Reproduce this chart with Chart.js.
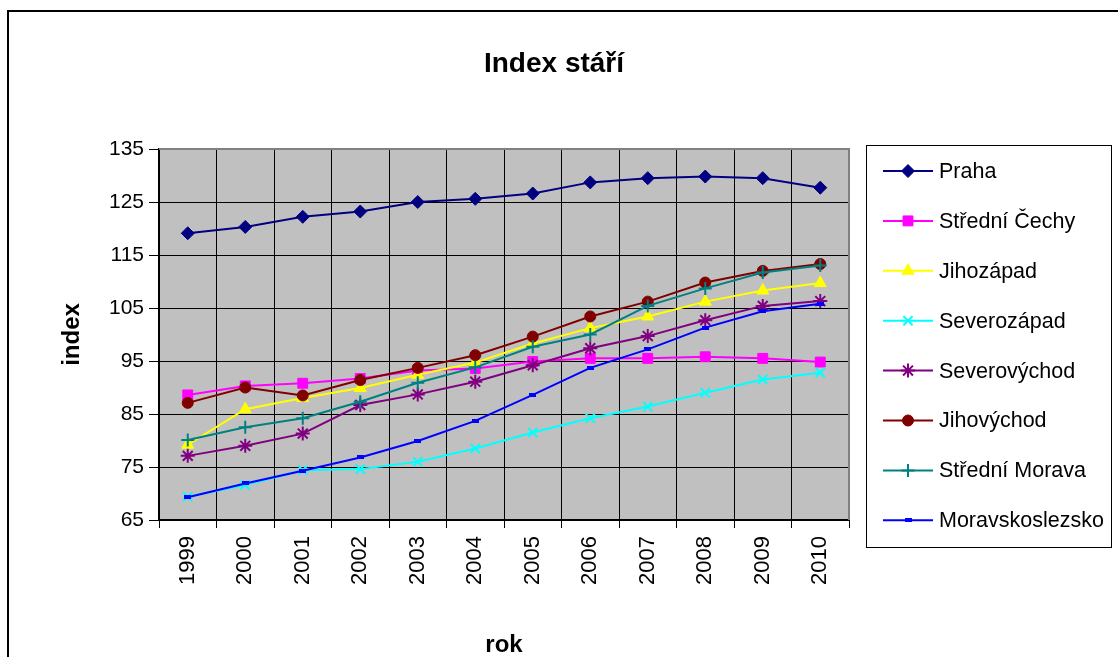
<!DOCTYPE html>
<html>
<head>
<meta charset="utf-8">
<script src="https://cdn.jsdelivr.net/npm/chart.js@4/dist/chart.umd.min.js"></script>
<style>
  html, body { margin: 0; padding: 0; background: #fff; }
  #wrap { position: relative; width: 1118px; height: 657px; }
</style>
</head>
<body>
<div id="wrap"><canvas id="c" width="1118" height="657"></canvas></div>
<script>
const years = ['1999','2000','2001','2002','2003','2004','2005','2006','2007','2008','2009','2010'];
const seriesNames = ['Praha','Střední Čechy','Jihozápad','Severozápad','Severovýchod','Jihovýchod','Střední Morava','Moravskoslezsko'];
const praha          = [119.1,120.3,122.2,123.2,125.0,125.6,126.6,128.7,129.5,129.8,129.5,127.7];
const stredniCechy   = [88.6,90.3,90.8,91.7,93.2,93.6,94.9,95.5,95.5,95.8,95.5,94.8];
const jihozapad      = [79.2,85.9,88.0,89.9,92.4,94.7,98.3,101.2,103.4,106.2,108.3,109.7];
const severozapad    = [69.4,71.6,74.4,74.6,76.0,78.5,81.5,84.2,86.4,89.0,91.5,92.8];
const severovychod   = [77.1,79.0,81.3,86.7,88.7,91.1,94.2,97.4,99.7,102.7,105.4,106.3];
const jihovychod     = [87.1,90.0,88.5,91.4,93.7,96.1,99.6,103.4,106.2,109.8,112.0,113.3];
const stredniMorava  = [80.1,82.5,84.2,87.3,90.9,93.8,97.7,100.0,105.4,108.7,111.7,113.0];
const moravskoslezsko= [69.3,71.9,74.3,76.8,79.9,83.7,88.6,93.7,97.2,101.3,104.4,105.8];
const yTicks = [65,75,85,95,105,115,125,135];
const titleText = 'Index stáří';
const xTitle = 'rok';
const yTitle = 'index';

const FONT = 'Arial, "Liberation Sans", sans-serif';

// small dash marker for Moravskoslezsko
const dash = document.createElement('canvas');
dash.width = 7; dash.height = 4;
(function(){ const g = dash.getContext('2d'); g.fillStyle = '#0000FF'; g.fillRect(0,0,7,4); })();

const styles = [
  {color:'#000080', pointStyle:'rectRot', radius:6.5, bw:1},
  {color:'#FF00FF', pointStyle:'rect', radius:7, bw:1},
  {color:'#FFFF00', pointStyle:'triangle', radius:7, bw:1},
  {color:'#00FFFF', pointStyle:'crossRot', radius:6.5, bw:2},
  {color:'#800080', pointStyle:'star', radius:7, bw:2},
  {color:'#800000', pointStyle:'circle', radius:5.5, bw:1},
  {color:'#008080', pointStyle:'cross', radius:6.5, bw:2},
  {color:'#0000FF', pointStyle:dash, radius:4, bw:1}
];
const values = [praha, stredniCechy, jihozapad, severozapad, severovychod, jihovychod, stredniMorava, moravskoslezsko];

const datasets = values.map((v, i) => ({
  label: seriesNames[i],
  data: v,
  borderColor: styles[i].color,
  backgroundColor: styles[i].color,
  pointBackgroundColor: styles[i].color,
  pointBorderColor: styles[i].color,
  pointStyle: styles[i].pointStyle,
  pointRadius: styles[i].radius,
  pointBorderWidth: styles[i].bw,
  borderWidth: 2,
  tension: 0,
  fill: false,
  order: -i
}));

const decor = {
  id: 'decor',
  beforeDraw(chart) {
    const ctx = chart.ctx, a = chart.chartArea;
    ctx.save();
    ctx.fillStyle = '#fff';
    ctx.fillRect(0, 0, chart.width, chart.height);
    ctx.strokeStyle = '#000';
    ctx.lineWidth = 2;
    ctx.strokeRect(8, 11, 1200, 800);
    ctx.fillStyle = '#C0C0C0';
    ctx.fillRect(a.left, a.top, a.right - a.left, a.bottom - a.top);
    ctx.restore();
  },
  afterDatasetsDraw(chart) {
    const ctx = chart.ctx, a = chart.chartArea;
    ctx.save();
    ctx.strokeStyle = '#808080';
    ctx.lineWidth = 2;
    ctx.beginPath();
    ctx.moveTo(a.left, a.top); ctx.lineTo(a.right, a.top); ctx.lineTo(a.right, a.bottom);
    ctx.stroke();
    ctx.restore();
  },
  afterDraw(chart) {
    const ctx = chart.ctx;
    ctx.save();
    // title
    ctx.fillStyle = '#000';
    ctx.font = 'bold 28px ' + FONT;
    ctx.textAlign = 'center';
    ctx.textBaseline = 'middle';
    ctx.fillText(titleText, 554, 64);
    // legend
    ctx.strokeStyle = '#000';
    ctx.lineWidth = 1;
    ctx.strokeRect(866.5, 145.5, 245, 402);
    ctx.font = '21.5px ' + FONT;
    ctx.textAlign = 'left';
    const dsets = chart.data.datasets;
    for (let i = 0; i < dsets.length; i++) {
      const y = 171 + i * 49.9;
      const d = dsets[i];
      ctx.strokeStyle = d.borderColor;
      ctx.lineWidth = 2;
      ctx.beginPath();
      ctx.moveTo(883, y); ctx.lineTo(933, y);
      ctx.stroke();
      ctx.fillStyle = d.pointBackgroundColor;
      ctx.strokeStyle = d.pointBorderColor;
      ctx.lineWidth = d.pointBorderWidth;
      Chart.helpers.drawPoint(ctx, {pointStyle: d.pointStyle, radius: d.pointRadius, rotation: 0, borderWidth: d.pointBorderWidth}, 908, y);
      ctx.fillStyle = '#000';
      ctx.fillText(d.label, 939, y + 1);
    }
    ctx.restore();
  }
};

new Chart(document.getElementById('c'), {
  type: 'line',
  data: { labels: years, datasets },
  plugins: [decor],
  options: {
    responsive: false,
    animation: false,
    layout: { padding: { top: 149, right: 269, left: 0, bottom: 0 } },
    plugins: { legend: { display: false }, tooltip: { enabled: false }, title: { display: false } },
    scales: {
      x: {
        offset: true,
        grid: { offset: true, color: '#000', lineWidth: 1, drawTicks: true, tickLength: 8, tickColor: '#000' },
        border: { color: '#000', width: 2 },
        ticks: { font: { family: FONT, size: 22 }, color: '#000', minRotation: 90, maxRotation: 90, padding: 8, autoSkip: false },
        title: { display: true, text: xTitle, font: { family: FONT, size: 24, weight: 'bold', lineHeight: 1.0 }, color: '#000', padding: { top: 0, bottom: 0 } },
        afterFit(s) { s.height = 137; }
      },
      y: {
        min: 65, max: 135,
        afterBuildTicks(s) { s.ticks = yTicks.map(v => ({ value: v })); },
        grid: { color: '#000', lineWidth: 1, drawTicks: true, tickLength: 10, tickColor: '#000' },
        border: { color: '#000', width: 2 },
        ticks: { font: { family: FONT, size: 21 }, color: '#000', padding: 5 },
        title: { display: true, text: yTitle, font: { family: FONT, size: 24, weight: 'bold', lineHeight: 1.2 }, color: '#000', padding: { top: 58, bottom: 0 } },
        afterFit(s) { s.width = 159; }
      }
    }
  }
});
</script>
</body>
</html>
